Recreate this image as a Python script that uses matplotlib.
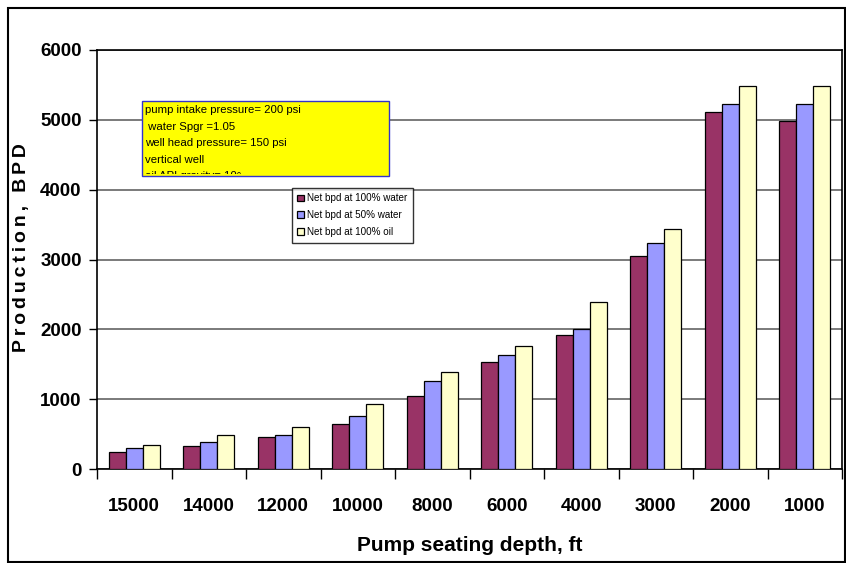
import numpy as np
import matplotlib.pyplot as plt
from matplotlib.patches import Rectangle
from matplotlib.transforms import Bbox

plt.rcParams['font.family'] = ['Liberation Sans', 'DejaVu Sans']

# data
depths = ['15000', '14000', '12000', '10000', '8000', '6000', '4000', '3000', '2000', '1000']
water100 = [250, 332, 456, 649, 1040, 1534, 1914, 3043, 5114, 4986]
water50 = [303, 390, 490, 755, 1260, 1630, 2006, 3233, 5233, 5233]
oil100 = [350, 490, 600, 928, 1390, 1765, 2393, 3430, 5490, 5490]
series_names = ['Net bpd at 100% water', 'Net bpd at 50% water', 'Net bpd at 100% oil']
colors = ['#993366', '#9999FF', '#FFFFCC']
note_lines = ['pump intake pressure= 200 psi', ' water Spgr =1.05',
              'well head pressure= 150 psi', 'vertical well', 'oil API gravity= 10\u00b0']

fig = plt.figure(figsize=(8.46, 5.63), dpi=100)
W, H = 846, 563
ax = fig.add_axes([97 / W, (H - 469) / H, (842 - 97) / W, (469 - 50) / H])

# outer chart frame
fig.patches.append(Rectangle((8 / W, 1 / H), (845 - 8) / W, (H - 8 - 1) / H,
                             transform=fig.transFigure, fill=False,
                             edgecolor='black', lw=1.5))

x = np.arange(len(depths))
bw = 0.228
for i, (vals, c, name) in enumerate(zip([water100, water50, oil100], colors, series_names)):
    ax.bar(x + (i - 1) * bw, vals, width=bw, color=c, edgecolor='black',
           linewidth=0.9, label=name, zorder=3)

ax.set_xlim(-0.5, len(depths) - 0.5)
ax.set_ylim(0, 6000)
ax.set_yticks(range(0, 6001, 1000))
ax.yaxis.grid(True, color='#707070', lw=1.3, zorder=0)
ax.set_xticks(x)
ax.set_xticklabels(depths)
ax.set_xticks(np.arange(-0.5, len(depths)), minor=True)
ax.tick_params(axis='x', which='major', length=0, pad=21)
ax.tick_params(axis='x', which='minor', length=7, width=1, direction='out')
ax.tick_params(axis='y', length=6, width=1, direction='out', pad=5)
for lab in ax.get_xticklabels():
    lab.set_fontsize(13.5)
    lab.set_fontweight('bold')
for lab in ax.get_yticklabels():
    lab.set_fontsize(13.5)
    lab.set_fontweight('bold')
for s in ax.spines.values():
    s.set_linewidth(1.2)
    s.set_color('black')

# letter-spaced y label, as in the original
ax.set_ylabel('\u2009'.join('Production, BPD'), fontsize=14, fontweight='bold')
ax.yaxis.set_label_coords((30 - 97) / 745, (469 - 248) / 419)
ax.set_xlabel('Pump seating depth, ft', fontsize=15, fontweight='bold', labelpad=15)

# yellow note box (last line clipped like in the original)
bx0, by0, bx1, by1 = 142, 101, 389, 176
fig.patches.append(Rectangle((bx0 / W, (H - by1) / H), (bx1 - bx0) / W, (by1 - by0) / H,
                             transform=fig.transFigure, facecolor='#FFFF00',
                             edgecolor='#3333CC', lw=1.0, zorder=5))
clip = Bbox.from_extents(bx0 + 1, H - by1 + 2, bx1 - 1, H - by0 - 1)
for k, line in enumerate(note_lines):
    t = fig.text(145 / W, (H - 110 - k * 16.6) / H, line, fontsize=8.2,
                 va='center', ha='left', zorder=6)
    t.set_clip_box(clip)
    t.set_clip_on(True)

leg = ax.legend(loc='upper left', bbox_to_anchor=(292 / W, (H - 188) / H),
                bbox_transform=fig.transFigure, fontsize=7.1, frameon=True,
                fancybox=False, edgecolor='black', handlelength=0.7,
                handleheight=0.7, handletextpad=0.3, labelspacing=0.7,
                borderpad=0.55, borderaxespad=0)
leg.get_frame().set_linewidth(1.0)

fig.savefig('out.png', dpi=100)
